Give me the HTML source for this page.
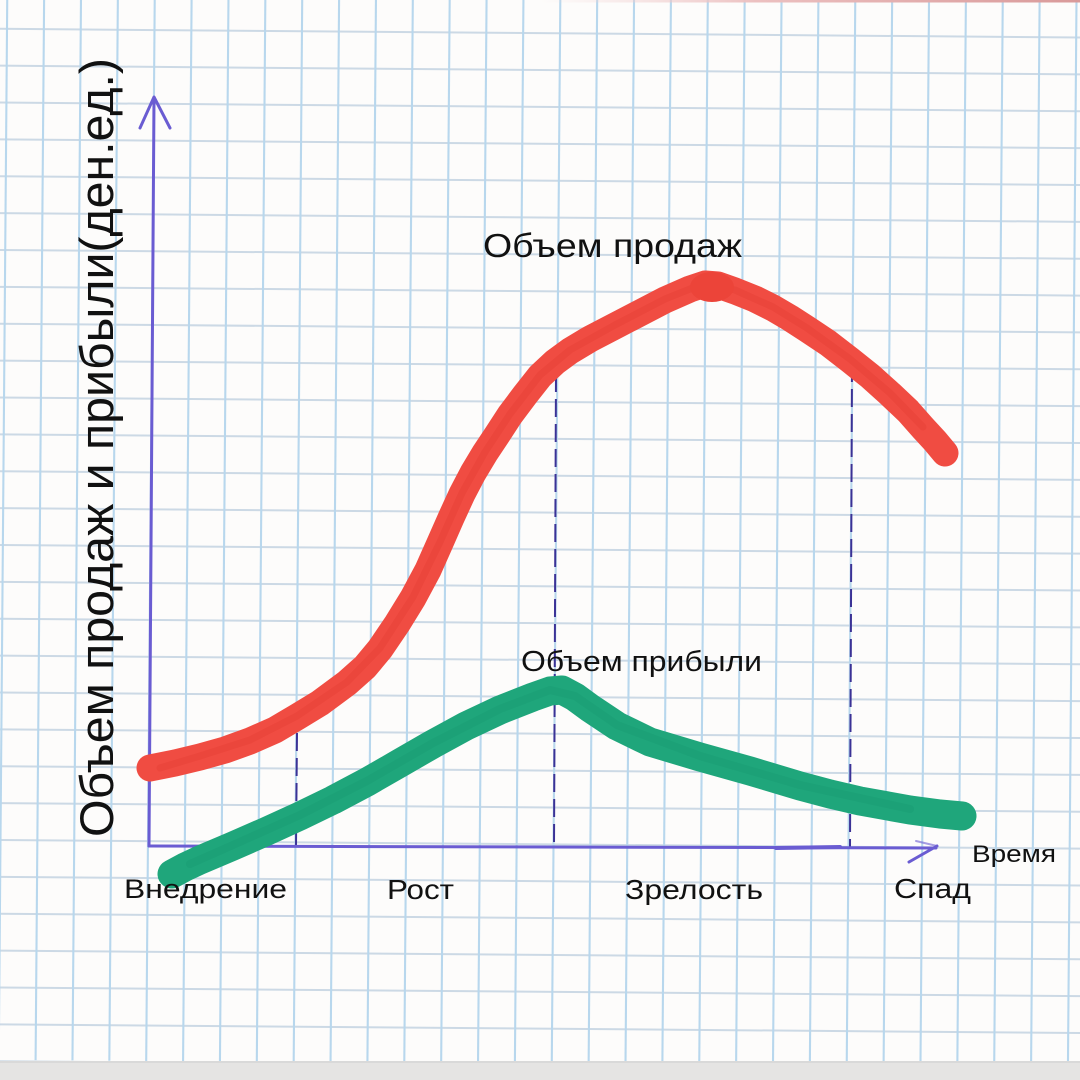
<!DOCTYPE html>
<html>
<head>
<meta charset="utf-8">
<style>
html,body{margin:0;padding:0;background:#fdfcfb;width:1080px;height:1080px;overflow:hidden;}
svg{display:block;}
text{font-family:"Liberation Sans","DejaVu Sans",sans-serif;fill:#111;}
</style>
</head>
<body>
<svg width="1080" height="1080" viewBox="0 0 1080 1080" xmlns="http://www.w3.org/2000/svg" style="overflow:hidden">
  <rect x="0" y="0" width="1080" height="1080" fill="#fdfcfb"/>
  <!-- grid -->
  <g transform="rotate(0.46 150 30)">
    <g stroke="#ccd9e5" stroke-width="2">
      <line x1="-60" y1="-6.87" x2="1140" y2="-6.87"/>
      <line x1="-60" y1="30" x2="1140" y2="30"/>
      <line x1="-60" y1="66.87" x2="1140" y2="66.87"/>
      <line x1="-60" y1="103.74" x2="1140" y2="103.74"/>
      <line x1="-60" y1="140.61" x2="1140" y2="140.61"/>
      <line x1="-60" y1="177.48" x2="1140" y2="177.48"/>
      <line x1="-60" y1="214.35" x2="1140" y2="214.35"/>
      <line x1="-60" y1="251.22" x2="1140" y2="251.22"/>
      <line x1="-60" y1="288.09" x2="1140" y2="288.09"/>
      <line x1="-60" y1="324.96" x2="1140" y2="324.96"/>
      <line x1="-60" y1="361.83" x2="1140" y2="361.83"/>
      <line x1="-60" y1="398.7" x2="1140" y2="398.7"/>
      <line x1="-60" y1="435.57" x2="1140" y2="435.57"/>
      <line x1="-60" y1="472.44" x2="1140" y2="472.44"/>
      <line x1="-60" y1="509.31" x2="1140" y2="509.31"/>
      <line x1="-60" y1="546.18" x2="1140" y2="546.18"/>
      <line x1="-60" y1="583.05" x2="1140" y2="583.05"/>
      <line x1="-60" y1="619.92" x2="1140" y2="619.92"/>
      <line x1="-60" y1="656.79" x2="1140" y2="656.79"/>
      <line x1="-60" y1="693.66" x2="1140" y2="693.66"/>
      <line x1="-60" y1="730.53" x2="1140" y2="730.53"/>
      <line x1="-60" y1="767.4" x2="1140" y2="767.4"/>
      <line x1="-60" y1="804.27" x2="1140" y2="804.27"/>
      <line x1="-60" y1="841.14" x2="1140" y2="841.14"/>
      <line x1="-60" y1="878.01" x2="1140" y2="878.01"/>
      <line x1="-60" y1="914.88" x2="1140" y2="914.88"/>
      <line x1="-60" y1="951.75" x2="1140" y2="951.75"/>
      <line x1="-60" y1="988.62" x2="1140" y2="988.62"/>
      <line x1="-60" y1="1025.49" x2="1140" y2="1025.49"/>
      <line x1="-60" y1="1062.36" x2="1140" y2="1062.36"/>
    </g>
    <g stroke="#b8d7ed" stroke-width="2.1">
      <line x1="-29.87" y1="-60" x2="-29.87" y2="1061"/>
      <line x1="7" y1="-60" x2="7" y2="1061"/>
      <line x1="43.87" y1="-60" x2="43.87" y2="1061"/>
      <line x1="80.74" y1="-60" x2="80.74" y2="1061"/>
      <line x1="117.61" y1="-60" x2="117.61" y2="1061"/>
      <line x1="154.48" y1="-60" x2="154.48" y2="1061"/>
      <line x1="191.35" y1="-60" x2="191.35" y2="1061"/>
      <line x1="228.22" y1="-60" x2="228.22" y2="1061"/>
      <line x1="265.09" y1="-60" x2="265.09" y2="1061"/>
      <line x1="301.96" y1="-60" x2="301.96" y2="1061"/>
      <line x1="338.83" y1="-60" x2="338.83" y2="1061"/>
      <line x1="375.7" y1="-60" x2="375.7" y2="1061"/>
      <line x1="412.57" y1="-60" x2="412.57" y2="1061"/>
      <line x1="449.44" y1="-60" x2="449.44" y2="1061"/>
      <line x1="486.31" y1="-60" x2="486.31" y2="1061"/>
      <line x1="523.18" y1="-60" x2="523.18" y2="1061"/>
      <line x1="560.05" y1="-60" x2="560.05" y2="1061"/>
      <line x1="596.92" y1="-60" x2="596.92" y2="1061"/>
      <line x1="633.79" y1="-60" x2="633.79" y2="1061"/>
      <line x1="670.66" y1="-60" x2="670.66" y2="1061"/>
      <line x1="707.53" y1="-60" x2="707.53" y2="1061"/>
      <line x1="744.4" y1="-60" x2="744.4" y2="1061"/>
      <line x1="781.27" y1="-60" x2="781.27" y2="1061"/>
      <line x1="818.14" y1="-60" x2="818.14" y2="1061"/>
      <line x1="855.01" y1="-60" x2="855.01" y2="1061"/>
      <line x1="891.88" y1="-60" x2="891.88" y2="1061"/>
      <line x1="928.75" y1="-60" x2="928.75" y2="1061"/>
      <line x1="965.62" y1="-60" x2="965.62" y2="1061"/>
      <line x1="1002.49" y1="-60" x2="1002.49" y2="1061"/>
      <line x1="1039.36" y1="-60" x2="1039.36" y2="1061"/>
      <line x1="1076.23" y1="-60" x2="1076.23" y2="1061"/>
      <line x1="1113.1" y1="-60" x2="1113.1" y2="1061"/>
    </g>
  </g>

  <!-- top pink edge -->
  <defs>
    <linearGradient id="pk" x1="0" y1="0" x2="1" y2="0">
      <stop offset="0" stop-color="#f3d6d6" stop-opacity="0"/>
      <stop offset="0.4" stop-color="#ecc0c0"/>
      <stop offset="1" stop-color="#d99a9a"/>
    </linearGradient>
  </defs>
  <rect x="540" y="0" width="540" height="2.5" fill="url(#pk)"/>

  <!-- bottom gray strip -->
  <rect x="0" y="1062" width="1080" height="18" fill="#e5e4e3"/>
  <rect x="0" y="1061" width="1080" height="2" fill="#d9d9d9"/>

  <!-- dashed guide lines -->
  <g stroke="#3b3296" stroke-width="2" stroke-dasharray="18 7" fill="none">
    <line x1="297" y1="733" x2="296" y2="846"/>
    <line x1="556" y1="374" x2="554" y2="848"/>
    <line x1="852" y1="364" x2="850" y2="848"/>
  </g>

  <!-- axes -->
  <g stroke="#6a5cd2" stroke-width="3" fill="none" stroke-linecap="round" stroke-linejoin="round">
    <line x1="154" y1="98" x2="149" y2="846"/>
    <polyline points="140,128 154,97 170,128"/>
    <line x1="149" y1="846" x2="936" y2="848"/>
    <line x1="776" y1="848" x2="840" y2="847" stroke-width="4"/>
    <polyline points="909,862 937,846"/>
    <polyline points="916,841 937,846" stroke-width="2" opacity="0.6"/>
  </g>

  <!-- sales curve (red) -->
  <g fill="none" stroke-linecap="round" stroke-linejoin="round">
    <path stroke="#f04c42" stroke-width="27" d="M150,768 L175,763 L200,757 L225,750 L250,741 L275,730 L297,717 L320,703 L347,683 L365,667 L380,649 L397,624 L413,598 L428,570 L440,543 L451,518 L462,494 L473,473 L485,453 L497,435 L510,415 L525,395 L540,376 L555,362 L570,351 L590,339 L615,326 L640,313 L665,300 L690,289 L705,284 L718,285 L735,291 L755,299 L773,308 L790,318 L807,329 L828,343 L850,360 L870,376 L890,394 L908,411 L923,428 L935,441 L945,453"/>
    <path stroke="#e0392f" stroke-width="7" opacity="0.3" d="M160,768 L200,756 L250,740 L297,716 L347,682 L380,648 L413,597 L440,542 L462,493 L485,452 L510,414 L540,375 L570,350 L615,325 L665,299 L705,283 L735,290 L773,307 L807,328 L850,359 L890,393 L923,427"/>
    <ellipse cx="712" cy="287" rx="22" ry="15" fill="#ec4439"/>
  </g>

  <!-- profit curve (green) -->
  <g fill="none" stroke-linecap="round" stroke-linejoin="round">
    <path stroke="#1fa67b" stroke-width="29" d="M172,874 L185,867 L200,860 L233,846 L265,832 L300,816 L333,800 L367,782 L400,763 L433,744 L466,726 L500,710 L533,697 L550,691 L562,690 L575,697 L590,708 L617,726 L650,742 L700,757 L750,771 L800,786 L830,794 L860,801 L910,810 L940,814 L962,816"/>
    <path stroke="#14936b" stroke-width="8" opacity="0.25" d="M190,864 L233,845 L300,815 L367,781 L433,743 L500,709 L550,690 L575,696 L617,725 L700,756 L800,785 L910,809"/>
  </g>

  <!-- labels -->
  <text transform="translate(113,837) rotate(-90)" font-size="47" textLength="779" lengthAdjust="spacingAndGlyphs">Объем продаж и прибыли(ден.ед.)</text>
  <text x="483" y="257" font-size="33" textLength="259" lengthAdjust="spacingAndGlyphs">Объем продаж</text>
  <text x="521" y="671" font-size="29" textLength="241" lengthAdjust="spacingAndGlyphs">Объем прибыли</text>
  <text x="124" y="898" font-size="27" textLength="163" lengthAdjust="spacingAndGlyphs">Внедрение</text>
  <text x="387" y="899" font-size="28" textLength="67" lengthAdjust="spacingAndGlyphs">Рост</text>
  <text x="625" y="899" font-size="28" textLength="138" lengthAdjust="spacingAndGlyphs">Зрелость</text>
  <text x="894" y="898" font-size="28" textLength="77" lengthAdjust="spacingAndGlyphs">Спад</text>
  <text x="972" y="862" font-size="24" textLength="84" lengthAdjust="spacingAndGlyphs">Время</text>
</svg>
</body>
</html>
